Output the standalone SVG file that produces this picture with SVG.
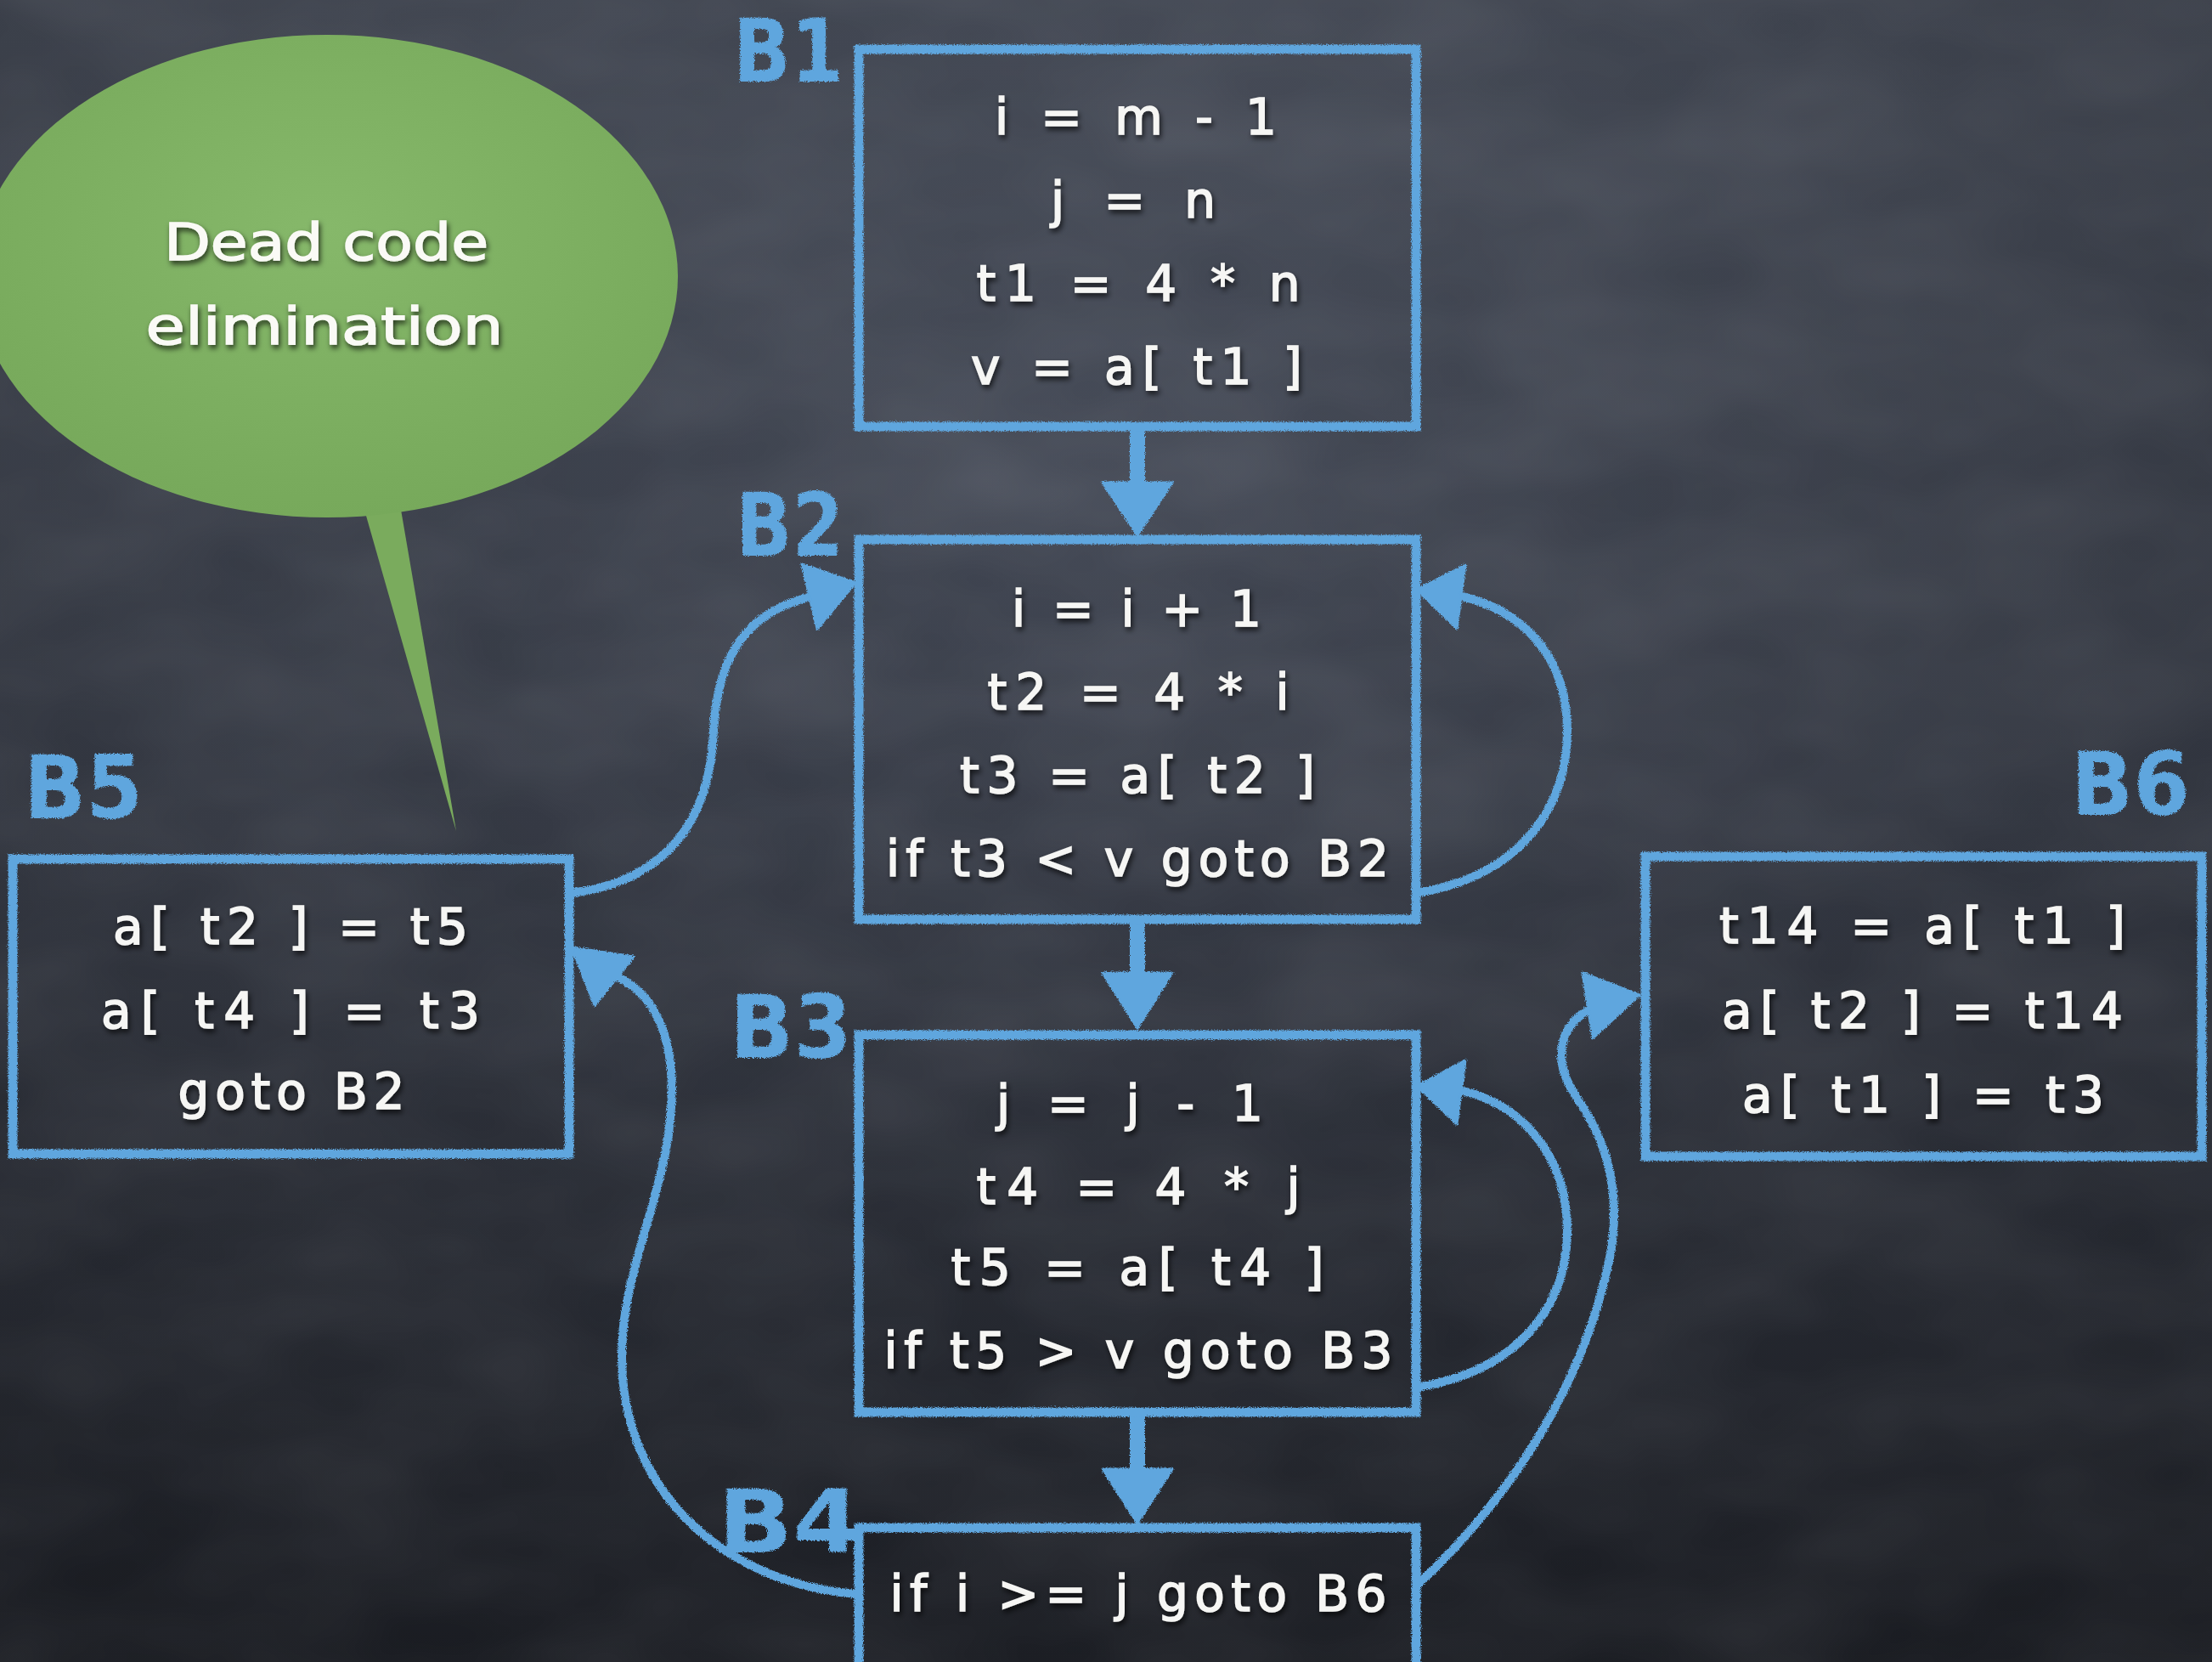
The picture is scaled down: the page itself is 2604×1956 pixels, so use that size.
<svg xmlns="http://www.w3.org/2000/svg" width="2604" height="1956" viewBox="0 0 2604 1956">
<defs>
<linearGradient id="bg" x1="0" y1="0" x2="0" y2="1">
<stop offset="0" stop-color="#4a505d"/>
<stop offset="0.5" stop-color="#3c414d"/>
<stop offset="1" stop-color="#24272f"/>
</linearGradient>
<radialGradient id="vig" cx="0.5" cy="0.3" r="0.8">
<stop offset="0" stop-color="#000" stop-opacity="0"/>
<stop offset="1" stop-color="#000" stop-opacity="0.3"/>
</radialGradient>
<radialGradient id="green" cx="0.5" cy="0.4" r="0.6">
<stop offset="0" stop-color="#86b86a"/>
<stop offset="1" stop-color="#77a95b"/>
</radialGradient>
<filter id="chalk" filterUnits="userSpaceOnUse" x="0" y="0" width="2604" height="1956">
<feTurbulence type="fractalNoise" baseFrequency="0.9" numOctaves="2" seed="3" result="n"/>
<feDisplacementMap in="SourceGraphic" in2="n" scale="5" xChannelSelector="R" yChannelSelector="G"/>
</filter>
<filter id="shadow" filterUnits="userSpaceOnUse" x="0" y="0" width="2604" height="1956">
<feDropShadow dx="2" dy="4" stdDeviation="3" flood-color="#000" flood-opacity="0.7"/>
</filter>
<filter id="noise" filterUnits="userSpaceOnUse" x="0" y="0" width="2604" height="1956">
<feTurbulence type="fractalNoise" baseFrequency="0.004 0.008" numOctaves="3" seed="7"/>
<feColorMatrix type="matrix" values="0 0 0 0 0.6  0 0 0 0 0.62  0 0 0 0 0.68  0 0 0 0.18 -0.04"/>
</filter>
</defs>
<style>
.box{fill:none;stroke:#5ea6de;stroke-width:11}
.conn{fill:none;stroke:#5ea6de;stroke-width:10;stroke-linecap:round}
.shaft{fill:none;stroke:#5ea6de;stroke-width:18}
.head{fill:#5ea6de;stroke:#5ea6de;stroke-width:3;stroke-linejoin:round}
.code{font-family:"DejaVu Sans","Liberation Sans",sans-serif;font-size:58px;fill:#f6f6f4;stroke:#f6f6f4;stroke-width:1.6;text-anchor:middle}
.lbl{font-family:"DejaVu Sans","Liberation Sans",sans-serif;font-size:104px;font-weight:bold;fill:#5ea6de}
.bub{font-family:"DejaVu Sans","Liberation Sans",sans-serif;font-size:60px;fill:#fafaf6;stroke:#fafaf6;stroke-width:1.4;text-anchor:middle}
</style>
<rect width="2604" height="1956" fill="url(#bg)"/>
<rect width="2604" height="1956" filter="url(#noise)"/>
<rect width="2604" height="1956" fill="url(#vig)"/>

<g id="bubble">
<path d="M429,600 L537,978 L472,600 Z" fill="#7aab5d"/>
<ellipse cx="385" cy="325" rx="413" ry="284" fill="url(#green)"/>
<g filter="url(#shadow)">
<text class="bub" x="384" y="306" textLength="382" lengthAdjust="spacingAndGlyphs">Dead code</text>
<text class="bub" x="382" y="405" textLength="421" lengthAdjust="spacingAndGlyphs">elimination</text>
</g>
</g>

<g id="connectors" filter="url(#chalk)">
<line class="shaft" x1="1339" y1="502" x2="1339" y2="575"/>
<polygon class="head" points="1298,568 1380,568 1339,630"/>
<line class="shaft" x1="1339" y1="1083" x2="1339" y2="1150"/>
<polygon class="head" points="1298,1145 1380,1145 1339,1210"/>
<line class="shaft" x1="1339" y1="1662" x2="1339" y2="1735"/>
<polygon class="head" points="1298,1729 1380,1729 1339,1793"/>
<path class="conn" d="M1672,1050 C1790,1030 1845,950 1845,860 C1845,770 1790,715 1712,700"/>
<polygon class="head" points="1668,694 1725,665 1715,740"/>
<path class="conn" d="M1672,1632 C1790,1612 1845,1535 1845,1448 C1845,1360 1790,1295 1712,1282"/>
<polygon class="head" points="1668,1278 1725,1248 1715,1323"/>
<path class="conn" d="M1668,1866 C1760,1780 1860,1650 1895,1480 C1910,1400 1890,1340 1855,1290 C1825,1245 1835,1200 1885,1182"/>
<polygon class="head" points="1930,1171 1863,1145 1875,1222"/>
<path class="conn" d="M673,1051 C760,1040 835,990 840,860 C845,770 880,720 955,702"/>
<polygon class="head" points="1007,686 944,664 962,740"/>
<path class="conn" d="M1010,1876 C900,1870 760,1800 735,1640 C715,1500 800,1400 790,1260 C785,1200 760,1160 715,1145"/>
<polygon class="head" points="673,1115 746,1126 700,1183"/>
</g>

<g id="B1">
<rect class="box" x="1011" y="58" width="656" height="444" filter="url(#chalk)"/>
<text class="lbl" x="863" y="96" textLength="130" lengthAdjust="spacingAndGlyphs" filter="url(#chalk)">B1</text>
<g filter="url(#shadow)">
<text class="code" x="1337" y="158" textLength="332" lengthAdjust="spacing">i = m - 1</text>
<text class="code" x="1334" y="256" textLength="194" lengthAdjust="spacing">j = n</text>
<text class="code" x="1340" y="354" textLength="381" lengthAdjust="spacing">t1 = 4 * n</text>
<text class="code" x="1338" y="452" textLength="390" lengthAdjust="spacing">v = a[ t1 ]</text>
</g>
</g>

<g id="B2">
<rect class="box" x="1011" y="635" width="656" height="447" filter="url(#chalk)"/>
<text class="lbl" x="866" y="654" textLength="127" lengthAdjust="spacingAndGlyphs" filter="url(#chalk)">B2</text>
<g filter="url(#shadow)">
<text class="code" x="1338" y="737" textLength="294" lengthAdjust="spacing">i = i + 1</text>
<text class="code" x="1340" y="835" textLength="355" lengthAdjust="spacing">t2 = 4 * i</text>
<text class="code" x="1339" y="933" textLength="418" lengthAdjust="spacing">t3 = a[ t2 ]</text>
<text class="code" x="1339" y="1031" textLength="592" lengthAdjust="spacing">if t3 &lt; v goto B2</text>
</g>
</g>

<g id="B3">
<rect class="box" x="1011" y="1218" width="656" height="444" filter="url(#chalk)"/>
<text class="lbl" x="859" y="1245" textLength="144" lengthAdjust="spacingAndGlyphs" filter="url(#chalk)">B3</text>
<g filter="url(#shadow)">
<text class="code" x="1330" y="1319" textLength="314" lengthAdjust="spacing">j = j - 1</text>
<text class="code" x="1340" y="1417" textLength="381" lengthAdjust="spacing">t4 = 4 * j</text>
<text class="code" x="1339" y="1512" textLength="439" lengthAdjust="spacing">t5 = a[ t4 ]</text>
<text class="code" x="1340" y="1610" textLength="599" lengthAdjust="spacing">if t5 &gt; v goto B3</text>
</g>
</g>

<g id="B4">
<rect class="box" x="1011" y="1798" width="656" height="200" filter="url(#chalk)"/>
<text class="lbl" x="845" y="1827" textLength="169" lengthAdjust="spacingAndGlyphs" filter="url(#chalk)">B4</text>
<g filter="url(#shadow)">
<text class="code" x="1340" y="1896" textLength="585" lengthAdjust="spacing">if i &gt;= j goto B6</text>
</g>
</g>

<g id="B5">
<rect class="box" x="15" y="1011" width="655" height="347" filter="url(#chalk)"/>
<text class="lbl" x="28" y="963" textLength="140" lengthAdjust="spacingAndGlyphs" filter="url(#chalk)">B5</text>
<g filter="url(#shadow)">
<text class="code" x="342" y="1111" textLength="418" lengthAdjust="spacing">a[ t2 ] = t5</text>
<text class="code" x="342" y="1210" textLength="446" lengthAdjust="spacing">a[ t4 ] = t3</text>
<text class="code" x="343" y="1305" textLength="267" lengthAdjust="spacing">goto B2</text>
</g>
</g>

<g id="B6">
<rect class="box" x="1937" y="1008" width="655" height="353" filter="url(#chalk)"/>
<text class="lbl" x="2438" y="959" textLength="140" lengthAdjust="spacingAndGlyphs" filter="url(#chalk)">B6</text>
<g filter="url(#shadow)">
<text class="code" x="2263" y="1110" textLength="478" lengthAdjust="spacing">t14 = a[ t1 ]</text>
<text class="code" x="2263" y="1210" textLength="472" lengthAdjust="spacing">a[ t2 ] = t14</text>
<text class="code" x="2264" y="1309" textLength="426" lengthAdjust="spacing">a[ t1 ] = t3</text>
</g>
</g>
</svg>
